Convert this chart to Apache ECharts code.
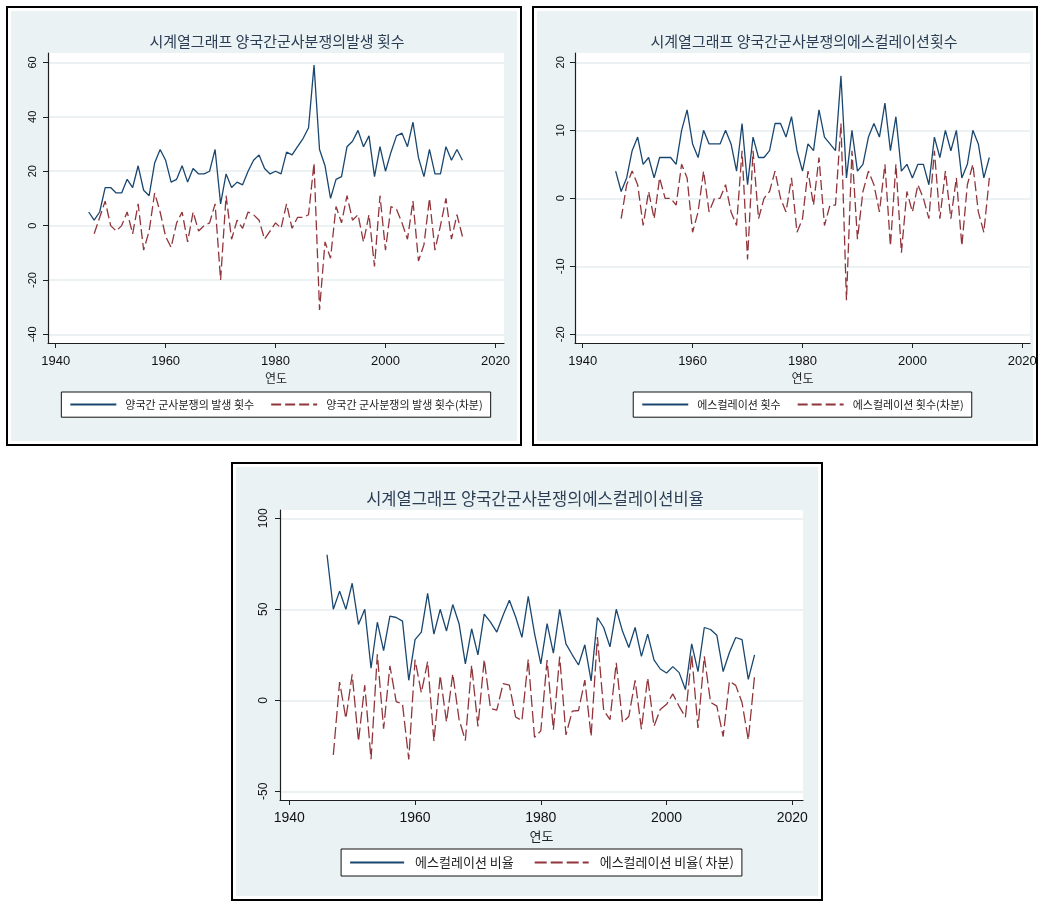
<!DOCTYPE html>
<html><head><meta charset="utf-8">
<script src="https://cdn.jsdelivr.net/npm/echarts@6/dist/echarts.min.js"></script>
<style>
html,body{margin:0;padding:0;width:1040px;height:902px;overflow:hidden;background:#fff;}
.frame{position:absolute;box-sizing:border-box;border:2px solid #000;background:#fff;}
.frame .bg{position:absolute;left:3px;top:3px;right:3px;bottom:3px;background:#eaf2f3;}
.chart{position:absolute;}
</style></head><body>
<div class="frame" style="left:6px;top:6px;width:516px;height:440px"><div class="bg"></div></div>
<div class="frame" style="left:532px;top:6px;width:506px;height:440px"><div class="bg"></div></div>
<div class="frame" style="left:231px;top:462px;width:592px;height:439px"><div class="bg"></div></div>
<div id="c1" class="chart" style="left:16px;top:0;width:520px;height:450px"></div>
<div id="c2" class="chart" style="left:545px;top:0;width:515px;height:450px"></div>
<div id="c3" class="chart" style="left:240px;top:456px;width:603px;height:446px"></div>
<script>
// ---- data ----
const years = [1946,1947,1948,1949,1950,1951,1952,1953,1954,1955,1956,1957,1958,1959,1960,1961,1962,1963,1964,1965,1966,1967,1968,1969,1970,1971,1972,1973,1974,1975,1976,1977,1978,1979,1980,1981,1982,1983,1984,1985,1986,1987,1988,1989,1990,1991,1992,1993,1994,1995,1996,1997,1998,1999,2000,2001,2002,2003,2004,2005,2006,2007,2008,2009,2010,2011,2012,2013,2014];

const occurrence = [5,2,5,14,14,12,12,17,14,22,13,11,23,28,24,16,17,22,16,21,19,19,20,28,8,19,14,16,15,20,24,26,21,19,20,19,27,26,29,32,36,59,28,22,10,17,18,29,31,35,29,33,18,29,20,27,33,34,29,38,25,18,28,19,19,29,24,28,24];
const occurrenceDiff = [null,-3,3,9,0,-2,0,5,-3,8,-9,-2,12,5,-4,-8,1,5,-6,5,-2,0,1,8,-20,11,-5,2,-1,5,4,2,-5,-2,1,-1,8,-1,3,3,4,23,-31,-6,-12,7,1,11,2,4,-6,4,-15,11,-9,7,6,1,-5,9,-13,-7,10,-9,0,10,-5,4,-4];

const escalation = [4,1,3,7,9,5,6,3,6,6,6,5,10,13,8,6,10,8,8,8,10,8,4,11,2,9,6,6,7,11,11,9,12,7,4,8,7,13,9,8,7,18,3,10,4,5,9,11,9,14,7,12,4,5,3,5,5,2,9,6,10,7,10,3,5,10,8,3,6];
const escalationDiff = [null,-3,2,4,2,-4,1,-3,3,0,0,-1,5,3,-5,-2,4,-2,0,0,2,-2,-4,7,-9,7,-3,0,1,4,0,-2,3,-5,-3,4,-1,6,-4,-1,-1,11,-15,7,-6,1,4,2,-2,5,-7,5,-8,1,-2,2,0,-3,7,-3,4,-3,3,-7,2,5,-2,-5,3];

const ratio = [80,50,60,50,64.3,41.7,50,17.6,42.9,27.3,46.2,45.5,43.5,11,33.3,37.5,58.8,36.4,50,38.1,52.6,42.1,20,39.3,25,47.4,42.9,37.5,46.7,55,45.8,34.6,57.1,36.8,20,42.1,25.9,50,31,25,19.4,30.5,10.7,45.5,40,29.4,50,37.9,29,40,24.1,36.4,22.2,17.2,15,18.5,15.2,5.9,31,15.8,40,38.9,35.7,15.8,26.3,34.5,33.3,11.5,25];
const ratioDiff = [null,-30,10,-10,14.3,-22.6,8.3,-32.4,25.3,-15.6,18.9,-0.7,-2,-32.5,22.3,4.2,21.3,-22.4,13.6,-11.9,14.5,-10.5,-22.1,19.3,-14.3,22.4,-4.5,-5.4,9.2,8.3,-9.2,-11.2,22.5,-20.3,-16.8,22.1,-16.2,24.1,-19,-6,-5.6,11.1,-19.8,34.8,-5.5,-10.6,20.6,-12.1,-8.9,11,-15.9,12.3,-14.2,-5,-2.2,3.5,-3.3,-9.3,25.1,-15.2,24.2,-1.1,-3.2,-19.9,10.5,8.2,-1.2,-21.8,13.5];

const xTicks = [1940,1960,1980,2000,2020];
const yTicks1 = [-40,-20,0,20,40,60];
const yTicks2 = [-20,-10,0,10,20];
const yTicks3 = [-50,0,50,100];

const titles = ['시계열그래프 양국간군사분쟁의발생 횟수','시계열그래프 양국간군사분쟁의에스컬레이션횟수','시계열그래프 양국간군사분쟁의에스컬레이션비율'];
const names1 = ['양국간 군사분쟁의 발생 횟수','양국간 군사분쟁의 발생 횟수(차분)'];
const names2 = ['에스컬레이션 횟수','에스컬레이션 횟수(차분)'];
const names3 = ['에스컬레이션 비율','에스컬레이션 비율( 차분)'];
const xName = '연도';

// ---- styling / layout ----
const KR = '"Noto Sans CJK KR", "Noto Sans", sans-serif';
const NUM = '"Liberation Sans", Arial, sans-serif';
const BLUE = '#1a476f', RED = '#90353b';

function pairs(vals){ return years.map((y,i)=>[y, vals[i]]); }

function panel(c){
  const axisCol = '#1f1f1f';
  return {
    animation:false,
    title:{text:c.title,left:c.titleX,top:c.titleTop,textAlign:'center',
      textStyle:{fontFamily:KR,fontSize:c.titleSize,fontWeight:'normal',color:'#2c3e55'}},
    legend:{left:'center',top:c.legendTop,backgroundColor:'#fff',borderColor:'#111',borderWidth:1,borderRadius:0,
      padding:c.legendPad,itemWidth:c.itemW,itemHeight:14,itemGap:c.itemGap,
      itemStyle:{opacity:0,borderWidth:0},
      textStyle:{fontFamily:KR,fontSize:c.legendSize,color:'#222',padding:[0,0,0,c.textPad]},
      data:c.names},
    grid:{left:c.gl,top:c.gt,width:c.gw,height:c.gh,show:true,backgroundColor:'#fff',borderWidth:0},
    xAxis:{type:'value',min:c.xmin,max:c.xmax,
      name:xName,nameLocation:'middle',nameGap:c.nameGap,
      nameTextStyle:{fontFamily:KR,fontSize:c.nameSize,color:'#222'},
      axisLine:{show:true,onZero:false,lineStyle:{color:axisCol,width:1.2}},
      axisTick:{show:true,length:5,customValues:xTicks,lineStyle:{color:axisCol,width:1}},
      axisLabel:{customValues:xTicks,margin:c.xMargin,formatter:v=>String(v),
        fontFamily:NUM,fontSize:c.xLabelSize,color:'#111'},
      splitLine:{show:false}},
    yAxis:{type:'value',min:c.ymin,max:c.ymax,
      axisLine:{show:true,onZero:false,lineStyle:{color:axisCol,width:1.2}},
      axisTick:{show:true,length:5,customValues:c.yTicks,lineStyle:{color:axisCol,width:1}},
      axisLabel:{customValues:c.yTicks,rotate:90,margin:c.yMargin,formatter:v=>String(v),
        fontFamily:NUM,fontSize:c.yLabelSize,color:'#111'},
      splitLine:{show:true,lineStyle:{color:'#e6eef0',width:1.5}}},
    series:[
      {type:'line',name:c.names[0],data:pairs(c.v1),symbol:'none',
        lineStyle:{color:BLUE,width:1.3},itemStyle:{color:BLUE}},
      {type:'line',name:c.names[1],data:pairs(c.v2),symbol:'none',
        lineStyle:{color:RED,width:1.3,type:c.dash},itemStyle:{color:RED}}
    ]
  };
}

const p1 = panel({title:titles[0],titleX:256,titleTop:29,titleSize:15,
  names:names1,legendTop:392,legendPad:[7,8],itemW:46,itemGap:16,legendSize:11,textPad:4,
  gl:32,gt:53,gw:456,gh:290,xmin:1938.6,xmax:2021.56,ymin:-43.16,ymax:63.46,yTicks:yTicks1,
  nameGap:27,nameSize:12,xMargin:12,xLabelSize:13,yMargin:10,yLabelSize:11,
  v1:occurrence,v2:occurrenceDiff,dash:[10,4]});
const p2 = panel({title:titles[1],titleX:254,titleTop:29,titleSize:15,
  names:names2,legendTop:392,legendPad:[7,8],itemW:46,itemGap:16,legendSize:11,textPad:4,
  gl:30,gt:53,gw:455,gh:290,xmin:1938.6,xmax:2021.4,ymin:-21.28,ymax:21.37,yTicks:yTicks2,
  nameGap:27,nameSize:12,xMargin:12,xLabelSize:13,yMargin:9,yLabelSize:11,
  v1:escalation,v2:escalationDiff,dash:[10,4]});
const p3 = panel({title:titles[2],titleX:290,titleTop:29,titleSize:16.5,
  names:names3,legendTop:393,legendPad:[7,8],itemW:54,itemGap:20,legendSize:13,textPad:6,
  gl:40,gt:54,gw:523,gh:290,xmin:1938.52,xmax:2021.7,ymin:-54.78,ymax:104.56,yTicks:yTicks3,
  nameGap:25,nameSize:13,xMargin:11,xLabelSize:14,yMargin:10,yLabelSize:12,
  v1:ratio,v2:ratioDiff,dash:[12,4]});

echarts.init(document.getElementById('c1'),null,{renderer:'canvas'}).setOption(p1);
echarts.init(document.getElementById('c2'),null,{renderer:'canvas'}).setOption(p2);
echarts.init(document.getElementById('c3'),null,{renderer:'canvas'}).setOption(p3);
</script>
</body></html>
